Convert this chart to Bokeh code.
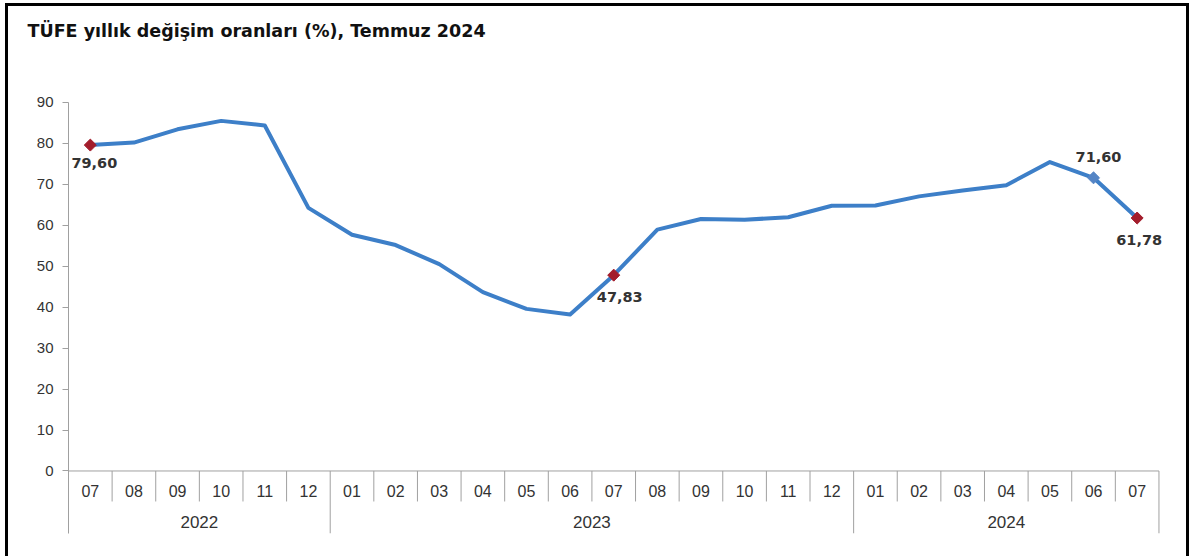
import math
from bokeh.plotting import figure
from bokeh.models import Range1d, FixedTicker, ColumnDataSource
from bokeh.core.properties import value
from bokeh.embed import file_html
from bokeh.resources import INLINE

# ---------------- data ----------------
title_text = "TÜFE yıllık değişim oranları (%), Temmuz 2024"
months = ["07", "08", "09", "10", "11", "12",
          "01", "02", "03", "04", "05", "06", "07", "08", "09", "10", "11", "12",
          "01", "02", "03", "04", "05", "06", "07"]
years = ["2022"] * 6 + ["2023"] * 12 + ["2024"] * 7
values = [79.60, 80.21, 83.45, 85.51, 84.39, 64.27,
          57.68, 55.18, 50.51, 43.68, 39.59, 38.21, 47.83, 58.94, 61.53, 61.36, 61.98, 64.77,
          64.86, 67.07, 68.50, 69.80, 75.45, 71.60, 61.78]
labelled_points = [0, 12, 23, 24]
y_ticks = [0, 10, 20, 30, 40, 50, 60, 70, 80, 90]

# ---------------- style ----------------
LINE_COLOR = "#3D7FC8"
RED = "#A31D2C"
BLUE_MARK = "#5585C5"
AXIS_GRAY = "#A0A0A0"
TEXT = "#333333"
marker_colors = {0: RED, 12: RED, 23: BLUE_MARK, 24: RED}
label_offsets = {0: (4, 18), 12: (6, 22), 23: (5, -21), 24: (2, 22)}  # px (dx, dy down)
Y_MIN = -15.27
Y_MAX = 103.92
AXIS_TOP = 90
MONTH_SEP_BOTTOM = -7.45
X_EXTRA = 0.15

n = len(values)
xs = [i + 0.5 for i in range(n)]

W, H = 1184, 553
p = figure(width=W, height=H, output_backend="svg", toolbar_location=None,
           x_range=Range1d(0, n + X_EXTRA), y_range=Range1d(Y_MIN, Y_MAX),
           x_axis_type=None,
           min_border_left=60, min_border_right=27, min_border_top=39, min_border_bottom=26)
p.outline_line_color = None
p.ygrid.grid_line_color = None
p.background_fill_color = "white"
p.border_fill_color = "white"
p.styles = {"border-top": "3px solid black", "border-left": "3px solid black",
            "border-right": "3px solid black", "margin-left": "5px", "margin-top": "3px"}

# title
p.title.text = title_text
p.title.text_font = "DejaVu Sans"
p.title.text_font_style = "bold"
p.title.text_font_size = "17.5px"
p.title.text_color = "#111111"
p.title.align = "left"
p.title.vertical_align = "bottom"
p.title.offset = -41
p.title.standoff = 10

# y axis
ya = p.yaxis[0]
ya.ticker = FixedTicker(ticks=y_ticks)
ya.bounds = (Y_MIN, AXIS_TOP)
ya.minor_tick_line_color = None
ya.major_tick_in = 0
ya.major_tick_out = 6
ya.axis_line_color = AXIS_GRAY
ya.major_tick_line_color = AXIS_GRAY
ya.major_label_text_font = "Liberation Sans"
ya.major_label_text_font_size = "15px"
ya.major_label_text_color = TEXT
ya.major_label_standoff = 9

# category axis (drawn through the data scales)
p.segment(x0=[0], y0=[0], x1=[n], y1=[0], line_color=AXIS_GRAY, line_width=1)
month_bounds = [i for i in range(1, n) if years[i] == years[i - 1]]
year_bounds = [i for i in range(1, n) if years[i] != years[i - 1]] + [n]
p.segment(x0=month_bounds, y0=[0] * len(month_bounds), x1=month_bounds,
          y1=[MONTH_SEP_BOTTOM] * len(month_bounds), line_color=AXIS_GRAY, line_width=1)
p.segment(x0=year_bounds, y0=[0] * len(year_bounds), x1=year_bounds,
          y1=[Y_MIN] * len(year_bounds), line_color=AXIS_GRAY, line_width=1)

p.text(x=xs, y=[0] * n, text=months, text_align="center", text_baseline="middle",
       y_offset=20.5, text_font=value("Liberation Sans"), text_font_size=value("16px"),
       text_color=TEXT)

year_names = []
year_centers = []
for yname in years:
    if yname not in year_names:
        year_names.append(yname)
for yname in year_names:
    idx = [i for i, yy in enumerate(years) if yy == yname]
    year_centers.append((min(idx) + max(idx) + 1) / 2)
p.text(x=year_centers, y=[0] * len(year_centers), text=year_names, text_align="center",
       text_baseline="middle", y_offset=51, text_font=value("Liberation Sans"),
       text_font_size=value("17px"), text_color=TEXT)

# series
p.line(xs, values, line_color=LINE_COLOR, line_width=4, line_join="round", line_cap="round")

src = ColumnDataSource(dict(
    x=[xs[i] for i in labelled_points],
    y=[values[i] for i in labelled_points],
    c=[marker_colors[i] for i in labelled_points],
    t=[f"{values[i]:.2f}".replace(".", ",") for i in labelled_points],
    dx=[label_offsets[i][0] for i in labelled_points],
    dy=[label_offsets[i][1] for i in labelled_points],
))
p.scatter("x", "y", source=src, marker="square", angle=math.pi / 4, size=8.5,
          fill_color="c", line_color="c")
p.text("x", "y", text="t", source=src, x_offset="dx", y_offset="dy",
       text_align="center", text_baseline="middle", text_font=value("DejaVu Sans"),
       text_font_style="bold", text_font_size=value("14.5px"), text_color=TEXT)

open("out.html", "w").write(file_html(p, INLINE))
